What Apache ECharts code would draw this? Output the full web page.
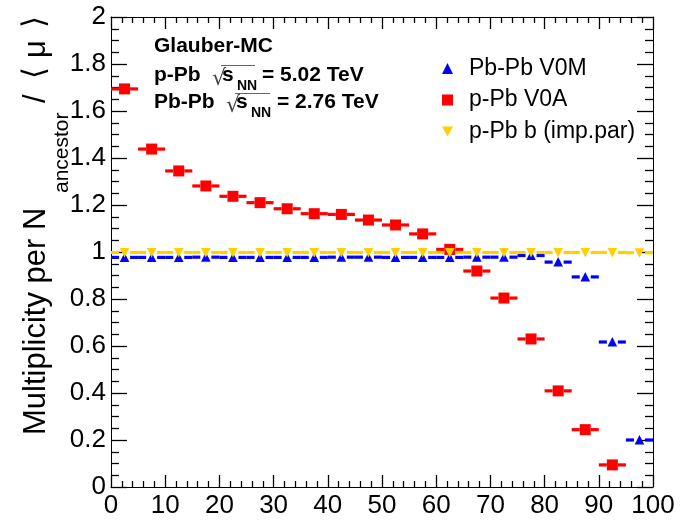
<!DOCTYPE html>
<html>
<head>
<meta charset="utf-8">
<script src="https://cdn.jsdelivr.net/npm/echarts@6/dist/echarts.min.js"></script>
<style>html,body{margin:0;padding:0;background:#fff}#c{width:686px;height:520px}</style>
</head>
<body>
<div id="c"></div>
<script>
// ---- data ----
const binCenters = [2.5, 7.5, 12.5, 17.5, 22.5, 27.5, 32.5, 37.5, 42.5, 47.5, 52.5, 57.5, 62.5, 67.5, 72.5, 77.5, 82.5, 87.5, 92.5, 97.5];
const binHalfWidth = 2.5;
const pbpbV0M = [0.977, 0.977, 0.977, 0.978, 0.977, 0.977, 0.977, 0.977, 0.978, 0.978, 0.977, 0.977, 0.977, 0.978, 0.978, 0.985, 0.957, 0.894, 0.617, 0.200];
const ppbV0A = [1.694, 1.438, 1.345, 1.281, 1.237, 1.210, 1.184, 1.163, 1.160, 1.136, 1.115, 1.077, 1.011, 0.919, 0.804, 0.630, 0.409, 0.244, 0.094, null];
const ppbImpPar = [0.998, 0.998, 0.998, 0.998, 0.998, 0.998, 0.998, 0.998, 0.998, 0.998, 0.998, 0.998, 0.998, 0.998, 0.998, 0.998, 0.998, 0.998, 0.998, 0.997];
const seriesNames = ['Pb-Pb V0M', 'p-Pb V0A', 'p-Pb b (imp.par)'];
const xTicks = {min: 0, max: 100, interval: 10};
const yTicks = {min: 0, max: 2, interval: 0.2};

const FONT = "'Liberation Sans', Arial, Helvetica, sans-serif";
const chart = echarts.init(document.getElementById('c'), null, {renderer: 'canvas'});

function pairs(vals) {
  const out = [];
  vals.forEach((v, i) => { if (v !== null) out.push([binCenters[i], v]); });
  return out;
}

function makeRender(kind) {
  return function (params, api) {
    const x = api.value(0), y = api.value(1);
    const c = api.coord([x, y]);
    const l = api.coord([x - binHalfWidth, y]);
    const r = api.coord([x + binHalfWidth, y]);
    const color = api.visual('color');
    const gap = 5.5;
    const lineStyle = {stroke: color, lineWidth: 3.2};
    const children = [
      {type: 'line', shape: {x1: l[0], y1: c[1], x2: c[0] - gap, y2: c[1]}, style: lineStyle},
      {type: 'line', shape: {x1: c[0] + gap, y1: c[1], x2: r[0], y2: c[1]}, style: lineStyle}
    ];
    if (kind === 'rect') {
      children.push({type: 'rect', shape: {x: c[0] - 5.5, y: c[1] - 5.5, width: 11, height: 11}, style: {fill: color}});
    } else if (kind === 'up') {
      children.push({type: 'polygon', shape: {points: [[c[0], c[1] - 5], [c[0] - 4.8, c[1] + 4.5], [c[0] + 4.8, c[1] + 4.5]]}, style: {fill: color}});
    } else {
      children.push({type: 'polygon', shape: {points: [[c[0], c[1] + 5], [c[0] - 4.8, c[1] - 4.5], [c[0] + 4.8, c[1] - 4.5]]}, style: {fill: color}});
    }
    return {type: 'group', children: children};
  };
}

function txt(x, baseline, text, size, weight, family, fill) {
  return {
    type: 'text', x: x, y: baseline - 0.35 * size, silent: true,
    style: {text: text, font: (weight || 'normal') + ' ' + size + 'px ' + (family || FONT), fill: fill || '#000', align: 'left', verticalAlign: 'middle'}
  };
}
function rtxt(baselineX, y, text, size, align, family) {
  return {
    type: 'text', x: baselineX - 0.35 * size, y: y, rotation: Math.PI / 2, silent: true,
    style: {text: text, font: 'normal ' + size + 'px ' + (family || FONT), fill: '#000', align: align || 'left', verticalAlign: 'middle'}
  };
}

function makeAxis(position, min, max, interval, tickLen, minorSplit, minorLen, labels) {
  return {
    type: 'value', position: position, min: min, max: max, interval: interval,
    axisLine: {show: true, onZero: false, lineStyle: {color: '#000', width: 1}},
    axisTick: {show: true, inside: true, length: tickLen, lineStyle: {color: '#000', width: 1.3}},
    minorTick: {show: true, splitNumber: minorSplit, length: minorLen, lineStyle: {color: '#000', width: 1.3}},
    splitLine: {show: false},
    minorSplitLine: {show: false},
    axisLabel: labels
  };
}

const option = {
  animation: false,
  backgroundColor: '#fff',
  grid: {left: 111, right: 33, top: 17, bottom: 33},
  xAxis: [
    makeAxis('bottom', xTicks.min, xTicks.max, xTicks.interval, 12, 5, 6,
      {show: true, fontSize: 26, fontFamily: FONT, color: '#000', margin: 6, showMinLabel: true, showMaxLabel: true}),
    makeAxis('top', xTicks.min, xTicks.max, xTicks.interval, 12, 5, 6, {show: false})
  ],
  yAxis: [
    makeAxis('left', yTicks.min, yTicks.max, yTicks.interval, 16, 4, 8,
      {show: true, fontSize: 26, fontFamily: FONT, color: '#000', margin: 5, formatter: v => String(+(+v).toFixed(1))}),
    makeAxis('right', yTicks.min, yTicks.max, yTicks.interval, 16, 4, 8, {show: false})
  ],
  legend: {
    orient: 'vertical', left: 437, top: 52, itemWidth: 11, itemHeight: 11, itemGap: 8.5,
    selectedMode: false,
    textStyle: {fontSize: 23, fontFamily: FONT, color: '#000', padding: [0, 0, 0, 11], lineHeight: 23},
    data: [
      {name: seriesNames[0], icon: 'triangle'},
      {name: seriesNames[1], icon: 'rect'},
      {name: seriesNames[2], icon: 'path://M0,0L10,0L5,9Z'}
    ]
  },
  series: [
    {type: 'custom', name: seriesNames[0], xAxisIndex: 0, yAxisIndex: 0, z: 2,
      itemStyle: {color: '#0000ff'}, renderItem: makeRender('up'), data: pairs(pbpbV0M)},
    {type: 'custom', name: seriesNames[1], xAxisIndex: 0, yAxisIndex: 0, z: 3,
      itemStyle: {color: '#ff0000'}, renderItem: makeRender('rect'), data: pairs(ppbV0A)},
    {type: 'custom', name: seriesNames[2], xAxisIndex: 0, yAxisIndex: 0, z: 4,
      itemStyle: {color: '#ffd000'}, renderItem: makeRender('down'), data: pairs(ppbImpPar)}
  ],
  graphic: {elements: [
    txt(154, 54, 'Glauber-MC', 21, 'bold'),
    txt(154, 83, 'p-Pb', 21, 'bold'),
    txt(212, 87, '\u221A', 22, 'normal', 'DejaVu Sans', '#444'),
    {type: 'line', silent: true, shape: {x1: 221, y1: 65.5, x2: 255, y2: 65.5}, style: {stroke: '#666', lineWidth: 1}},
    txt(222, 83, 's', 21, 'bold'),
    txt(237, 91, 'NN', 14, 'bold'),
    txt(262, 83, '= 5.02 TeV', 21, 'bold'),
    txt(154, 110, 'Pb-Pb', 21, 'bold'),
    txt(226, 114, '\u221A', 22, 'normal', 'DejaVu Sans', '#444'),
    {type: 'line', silent: true, shape: {x1: 235, y1: 93.5, x2: 270, y2: 93.5}, style: {stroke: '#666', lineWidth: 1}},
    txt(236, 110, 's', 21, 'bold'),
    txt(251, 118, 'NN', 14, 'bold'),
    txt(277, 110, '= 2.76 TeV', 21, 'bold'),
    // y-axis title
    rtxt(47, 435, 'Multiplicity per N', 31),
    rtxt(70, 193, 'ancestor', 21),
    rtxt(47, 103, '/', 31),
    rtxt(47, 73, '\u27E8', 31, 'center', 'DejaVu Sans'),
    rtxt(47, 49, '\u03BC', 31, 'center'),
    rtxt(47, 22, '\u27E9', 31, 'center', 'DejaVu Sans')
  ]}
};
chart.setOption(option);
</script>
</body>
</html>
